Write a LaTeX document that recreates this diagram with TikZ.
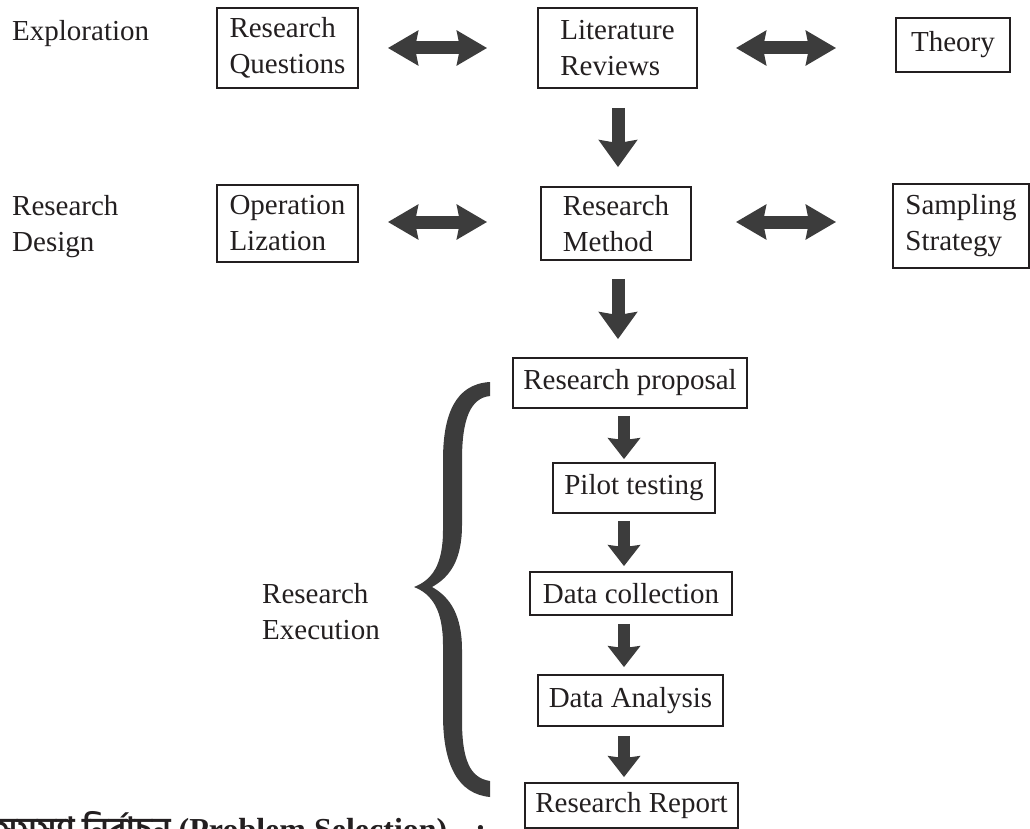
\documentclass[tikz,border=0pt]{standalone}
\usepackage{fontspec}
\setmainfont{Liberation Serif}
\newfontfamily\bnfont[Script=Bengali]{Hind Siliguri}
\usetikzlibrary{arrows.meta}
\definecolor{ink}{HTML}{231F20}
\definecolor{arrowgray}{HTML}{3C3C3C}

\begin{document}
\begin{tikzpicture}[x=1pt,y=-1pt,
  every node/.style={text=ink, font=\fontsize{29}{36}\selectfont},
  box/.style={draw=ink, line width=1.8pt, inner sep=0pt, align=left},
  sidelabel/.style={inner sep=0pt, align=left, anchor=north west},
  dblarrow/.style={draw=arrowgray, line width=13pt,
    {Stealth[length=30pt,width=34pt,inset=3pt]}-{Stealth[length=30pt,width=34pt,inset=3pt]}},
  bigarrow/.style={draw=arrowgray, line width=13pt,
    -{Stealth[length=27pt,width=38pt,inset=3pt]}},
  smallarrow/.style={draw=arrowgray, line width=12pt,
    -{Stealth[length=21pt,width=32pt,inset=2pt]}}
]
\useasboundingbox (0,0) rectangle (1030,829);
\clip (0,0) rectangle (1030,829);

% stage labels
\node[sidelabel] (explo) at (12,20) {Exploration};
\node[sidelabel] (design) at (12,195) {Research\\Design};
\node[sidelabel] (exec) at (262,583) {Research\\Execution};

% exploration row
\node[box, minimum width=141pt, minimum height=80pt] (rq) at (287.5,48) {Research\\Questions};
\node[box, minimum width=159pt, minimum height=80pt] (lit) at (617.5,48) {Literature\\Reviews};
\node[box, minimum width=114pt, minimum height=54pt] (th) at (953,45) {Theory};

% design row
\node[box, minimum width=141pt, minimum height=77pt] (op) at (287.5,223.5) {Operation\\Lization};
\node[box, minimum width=150pt, minimum height=73pt] (meth) at (616,223.5) {Research\\Method};
\node[box, minimum width=136pt, minimum height=84pt] (samp) at (961,226) {Sampling\\Strategy};

% execution column
\node[box, minimum width=234pt, minimum height=50pt] (prop) at (630,383) {Research proposal};
\node[box, minimum width=162pt, minimum height=50pt] (pilot) at (634,488) {Pilot testing};
\node[box, minimum width=202pt, minimum height=43pt] (dc) at (631,593.5) {Data collection};
\node[box, minimum width=185pt, minimum height=51pt] (da) at (630.5,700.5) {Data Analysis};
\node[box, minimum width=213pt, minimum height=45pt] (rr) at (631.5,805.5) {Research Report};

% arrow axes
\coordinate (bigx) at (618,0);
\coordinate (smallx) at (624,0);

% two-way arrows
\draw[dblarrow] ([xshift=29pt]rq.east) -- ([xshift=-50pt]lit.west);
\draw[dblarrow] ([xshift=38pt]lit.east) -- ([xshift=-59pt]th.west |- lit.west);
\draw[dblarrow] ([xshift=29pt,yshift=1.5pt]op.east) -- ([xshift=-53pt,yshift=1.5pt]meth.west);
\draw[dblarrow] ([xshift=44pt,yshift=1.5pt]meth.east) -- ([xshift=-56pt,yshift=1.5pt]samp.west |- meth.east);

% main downward arrows
\draw[bigarrow, shorten <=19pt, shorten >=19pt] (lit.south -| bigx) -- (meth.north -| bigx);
\draw[bigarrow, shorten <=18pt, shorten >=18pt] (meth.south -| bigx) -- (prop.north -| bigx);

% execution steps
\draw[smallarrow, shorten <=7pt, shorten >=3pt] (prop.south -| smallx) -- (pilot.north -| smallx);
\draw[smallarrow, shorten <=7pt, shorten >=5pt] (pilot.south -| smallx) -- (dc.north -| smallx);
\draw[smallarrow, shorten <=8pt, shorten >=7pt] (dc.south -| smallx) -- (da.north -| smallx);
\draw[smallarrow, shorten <=9pt, shorten >=5pt] (da.south -| smallx) -- (rr.north -| smallx);

% curly brace grouping the execution steps
\fill[arrowgray] (490,382)
  .. controls (455,384) and (443,415) .. (443,460)
  -- (443,530)
  .. controls (443,565) and (432,580) .. (414,587)
  .. controls (432,594) and (443,610) .. (443,645)
  -- (443,715)
  .. controls (443,765) and (458,794) .. (490,797)
  -- (490,781)
  .. controls (470,778) and (462,760) .. (462,720)
  -- (462,650)
  .. controls (462,615) and (450,597) .. (432,587)
  .. controls (450,577) and (462,560) .. (462,525)
  -- (462,460)
  .. controls (462,420) and (470,398) .. (490,396)
  -- cycle;

% section heading at the foot
\node[anchor=base west, inner sep=0pt, font=\fontsize{32}{38}\selectfont\bfseries] (sel) at (-2,840)
  {{\bnfont সমস্যা নির্বাচন} (Problem Selection)\hspace{28pt}:};
\end{tikzpicture}
\end{document}
